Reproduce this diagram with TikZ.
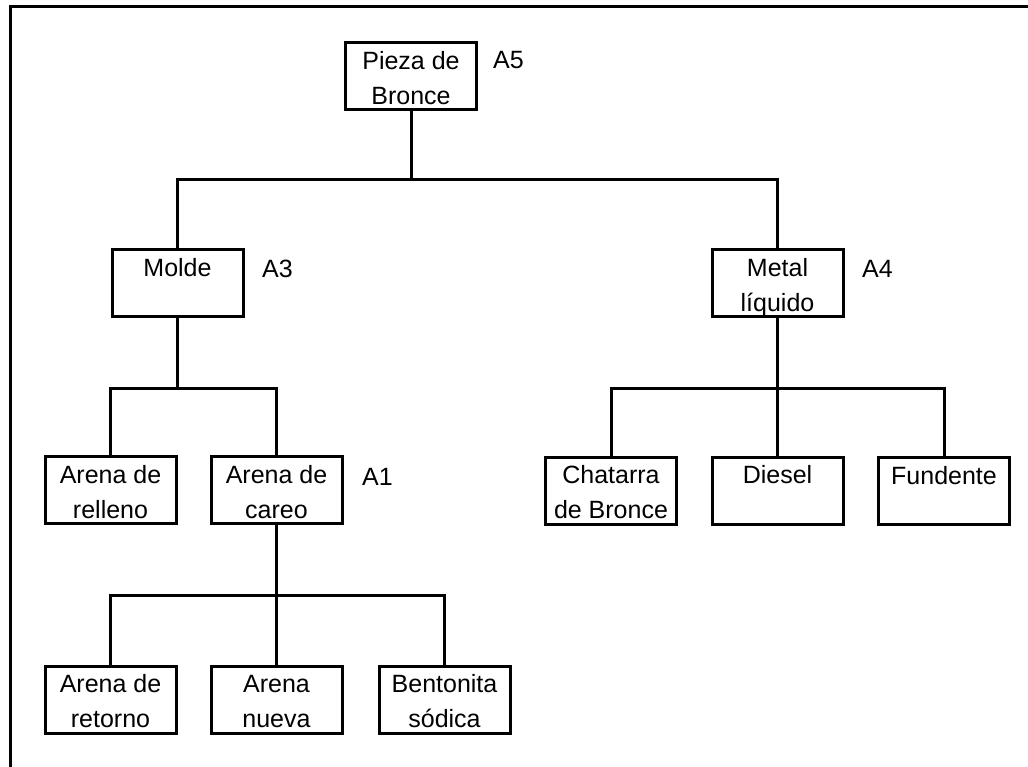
\documentclass[tikz,border=0pt]{standalone}
\usepackage{fontspec}
\setmainfont{Liberation Sans}
\newcommand{\boxtext}[1]{\parbox[c][67pt][t]{131pt}{\centering\fontsize{25}{35}\selectfont\rule{0pt}{26.5pt}#1}}
\tikzset{
  item/.style={draw, line width=3pt, inner sep=0pt, rectangle},
  tag/.style={anchor=base west, inner sep=0pt, font=\fontsize{25}{30}\selectfont},
  link/.style={line width=3pt},
}
\begin{document}
\begin{tikzpicture}[x=1pt, y=-1pt]
\useasboundingbox (0,0) rectangle (1028,766);
% frame (top and left edges)
\draw[line width=3pt] (1030,6.5) -- (10.8,6.5) -- (10.8,768);

% boxes
\node[item] (pieza)     at (411,76)      {\boxtext{Pieza de\\Bronce}};
\node[item] (molde)     at (177.5,283)   {\boxtext{Molde}};
\node[item] (metal)     at (777.5,283)   {\boxtext{Metal\\líquido}};
\node[item] (relleno)   at (110.5,490)   {\boxtext{Arena de\\relleno}};
\node[item] (careo)     at (276.5,490)   {\boxtext{Arena de\\careo}};
\node[item] (chatarra)  at (611,490.5)   {\boxtext{Chatarra\\de Bronce}};
\node[item] (diesel)    at (777.5,490.5) {\boxtext{Diesel}};
\node[item] (fundente)  at (944,491)     {\boxtext{Fundente}};
\node[item] (retorno)   at (110.5,699.5) {\boxtext{Arena de\\retorno}};
\node[item] (nueva)     at (276.5,699.5) {\boxtext{Arena\\nueva}};
\node[item] (bentonita) at (444.5,699.5) {\boxtext{Bentonita\\sódica}};

% tags
\node[tag] (a5) at (493,68)  {A5};
\node[tag] (a3) at (262,277) {A3};
\node[tag] (a4) at (862,277) {A4};
\node[tag] (a1) at (362,485) {A1};

% junction points of the buses
\coordinate (j1) at (411,179);
\coordinate (j2) at (177.5,388);
\coordinate (j3) at (777.5,388);
\coordinate (j4) at (276.5,595);

% connectors
\draw[link] (pieza.south) -- (j1);
\draw[link] (molde.north) |- (j1) -| (metal.north);

\draw[link] (molde.south) -- (j2);
\draw[link] (relleno.north) |- (j2) -| (careo.north);

\draw[link] (metal.south) -- (diesel.north);
\draw[link] (chatarra.north) |- (j3) -| (fundente.north);

\draw[link] (careo.south) -- (nueva.north);
\draw[link] (retorno.north) |- (j4) -| (bentonita.north);
\end{tikzpicture}
\end{document}
